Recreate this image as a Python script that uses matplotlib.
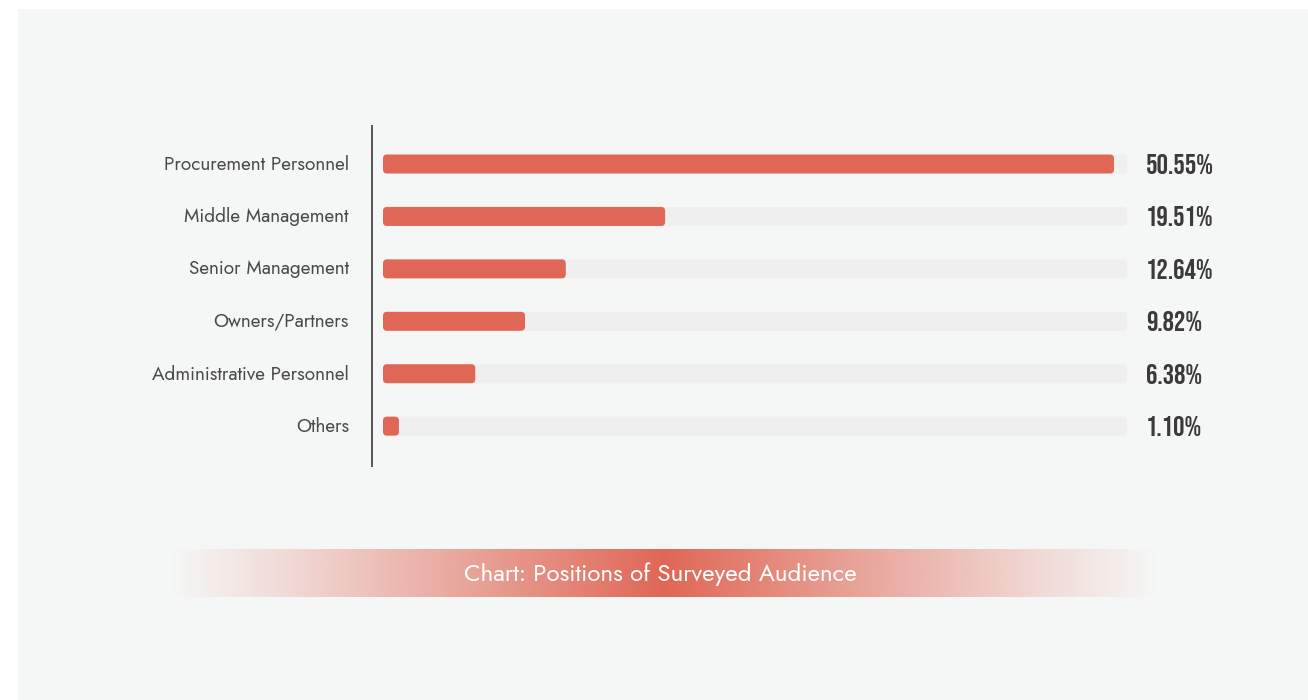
import numpy as np
import matplotlib
matplotlib.use("Agg")
import matplotlib.pyplot as plt
from matplotlib.patches import Rectangle, FancyBboxPatch

# Survey data
categories = ["Procurement Personnel", "Middle Management", "Senior Management",
              "Owners/Partners", "Administrative Personnel", "Others"]
shares = [50.55, 19.51, 12.64, 9.82, 6.38, 1.10]
value_labels = ["50.55%", "19.51%", "12.64%", "9.82%", "6.38%", "1.10%"]
title_text = "Chart: Positions of Surveyed Audience"

W, H = 1308, 700
BAR_COLOR = "#e06655"
TRACK_COLOR = "#efefef"
PANEL_COLOR = "#f5f7f6"
TEXT_COLOR = "#4a4a4a"
VALUE_COLOR = "#3a3a3a"
LABEL_FONT = ["Jost", "Lato", "DejaVu Sans"]
VALUE_FONT = ["Bebas Neue", "Oswald", "Open Sans Condensed", "DejaVu Sans"]

fig = plt.figure(figsize=(W / 100, H / 100), dpi=100)
fig.patch.set_facecolor("white")

# light panel behind everything
fig.add_artist(Rectangle((18 / W, 0), 1 - 18 / W, (H - 9) / H,
                         transform=fig.transFigure, facecolor=PANEL_COLOR,
                         edgecolor="none", zorder=0))

def px_box(x0, y0, x1, y1):
    return [x0 / W, 1 - y1 / H, (x1 - x0) / W, (y1 - y0) / H]

ax = fig.add_axes(px_box(383, 126, 1127, 466))
ax.set_facecolor("none")
xmax = 51.45
ax.set_xlim(0, xmax)
ax.set_ylim(len(categories) - 0.24, -0.725)

# pixel scale helpers for rounded corners
ax_w_px = 1127 - 383
ax_h_px = 466 - 126
ylo, yhi = ax.get_ylim()
x_per_px = xmax / ax_w_px
y_per_px = abs(ylo - yhi) / ax_h_px
aspect = y_per_px / x_per_px
bar_h = 19 * y_per_px
radius = 4 * x_per_px

for i, (cat, val, lab) in enumerate(zip(categories, shares, value_labels)):
    track = FancyBboxPatch((0, i - bar_h / 2), xmax, bar_h,
                           boxstyle=f"round,pad=0,rounding_size={radius}",
                           mutation_aspect=aspect, facecolor=TRACK_COLOR,
                           edgecolor="none", zorder=1)
    ax.add_patch(track)
    bar = FancyBboxPatch((0, i - bar_h / 2), val, bar_h,
                         boxstyle=f"round,pad=0,rounding_size={min(radius, val / 2)}",
                         mutation_aspect=aspect, facecolor=BAR_COLOR,
                         edgecolor="none", zorder=2)
    ax.add_patch(bar)
    # category name to the left of the axis line
    ax.annotate(cat, xy=(0, i), xycoords="data", xytext=(-34, 0),
                textcoords="offset pixels", ha="right", va="center",
                fontsize=13.7, color=TEXT_COLOR, family=LABEL_FONT)
    # value at the end of the track
    ax.annotate(lab, xy=(xmax, i), xycoords="data", xytext=(19, 0),
                textcoords="offset pixels", ha="left", va="center_baseline",
                fontsize=20.5, fontweight="bold", family=VALUE_FONT,
                color=VALUE_COLOR)

ax.set_xticks([])
ax.set_yticks([])
for s in ["top", "right", "bottom"]:
    ax.spines[s].set_visible(False)
ax.spines["left"].set_position(("outward", 11 * 72 / 100))
ax.spines["left"].set_color("#555555")
ax.spines["left"].set_linewidth(1.4)

# caption band with a horizontal fade
cap = fig.add_axes(px_box(168, 549, 1160, 597))
cap.set_axis_off()
n = 600
t = np.linspace(-1, 1, n)
alpha = np.clip(1 - np.abs(t), 0, 1) ** 1.1
rgba = np.zeros((1, n, 4))
rgba[..., :3] = matplotlib.colors.to_rgb(BAR_COLOR)
rgba[..., 3] = alpha
cap.imshow(rgba, aspect="auto", extent=(0, 1, 0, 1), interpolation="bilinear")
cap.set_xlim(0, 1)
cap.set_ylim(0, 1)
cap.text(0.496, 0.48, title_text, ha="center", va="center", color="white",
         fontsize=17.4, family=LABEL_FONT)

fig.savefig("out.png", dpi=100)
